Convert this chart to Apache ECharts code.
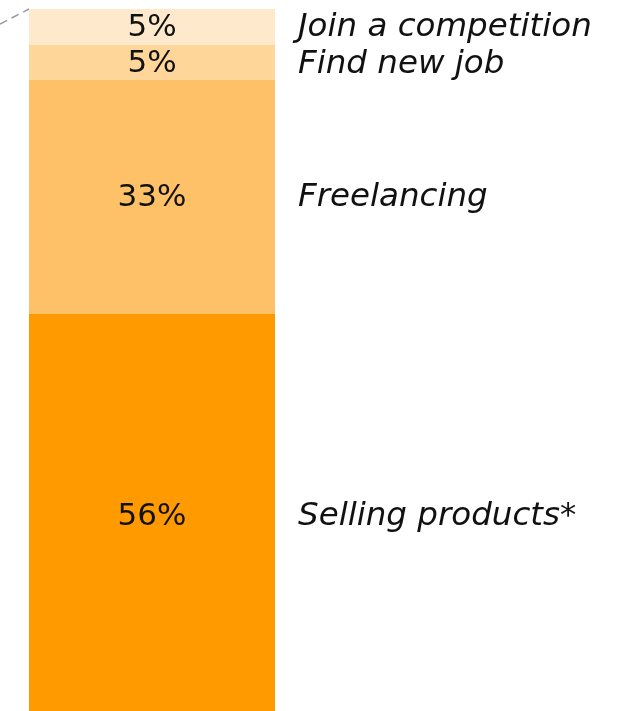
<!DOCTYPE html>
<html>
<head>
<meta charset="utf-8">
<script src="https://cdn.jsdelivr.net/npm/echarts@6/dist/echarts.min.js"></script>
<style>
  html, body { margin: 0; padding: 0; background: #fff; }
  #chart { width: 620px; height: 711px; }
</style>
</head>
<body>
<div id="chart"></div>
<script>
// Purposes, listed bottom to top of the stacked bar
const purposes = ['Selling products*', 'Freelancing', 'Find new job', 'Join a competition'];
const shares = [56, 33, 5, 5];
const shades = ['#FF9A00', '#FEC168', '#FED69A', '#FFE9CC'];
// small vertical nudges for each label row
const nudges = [4, 1, 2, 1];

const chart = echarts.init(document.getElementById('chart'), null, { renderer: 'canvas' });
const total = shares.reduce((a, b) => a + b, 0);
const barPx = 246;
const font = 'DejaVu Sans';

const series = purposes.map((name, i) => ({
  name: name,
  type: 'bar',
  stack: 'all',
  barWidth: '100%',
  data: [shares[i]],
  itemStyle: { color: shades[i] },
  label: {
    show: true,
    position: ['0%', '50%'],
    offset: [0, nudges[i]],
    align: 'left',
    verticalAlign: 'middle',
    formatter: () => '{p|' + shares[i] + '%}{n|' + name + '}',
    rich: {
      p: { width: barPx, align: 'center', fontSize: 31, color: '#111', fontFamily: font },
      n: { fontSize: 32.5, fontStyle: 'italic', color: '#111', fontFamily: font, padding: [0, 0, 0, 23] }
    }
  }
}));

chart.setOption({
  animation: false,
  grid: { left: 29, right: 620 - 29 - barPx, top: 9, bottom: 0 },
  xAxis: { type: 'category', data: ['share'], show: false },
  yAxis: { type: 'value', min: 0, max: total, show: false },
  series: series
});

// dashed connector leading into the top-left corner of the bar
const topLeft = chart.convertToPixel({ gridIndex: 0 }, [0, total]);
const barLeft = 29;
chart.setOption({
  graphic: [{
    type: 'line',
    shape: { x1: 0, y1: topLeft[1] + 15, x2: barLeft, y2: topLeft[1] },
    style: { stroke: '#999', lineWidth: 1.5, lineDash: [8, 5] }
  }]
});
</script>
</body>
</html>
